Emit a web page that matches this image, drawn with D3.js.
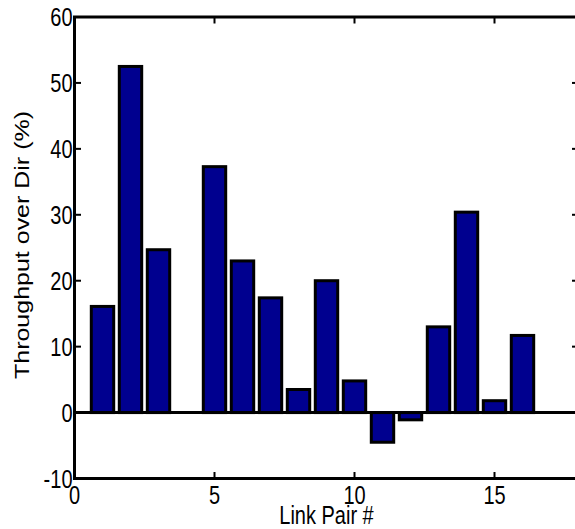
<!DOCTYPE html>
<html>
<head>
<meta charset="utf-8">
<script src="https://cdn.jsdelivr.net/npm/d3@7"></script>
<style>
  body { margin: 0; background: #fff; }
  svg text { font-family: "Liberation Sans", Arial, Helvetica, sans-serif; fill: #000; }
</style>
</head>
<body>
<div id="chart"></div>
<script>
"use strict";

/* values */
const linkPairs = d3.range(1, 17);
const throughput = [16.1, 52.5, 24.7, 0, 37.3, 23.0, 17.4, 3.5, 20.0, 4.8, -4.5, -1.1, 13.0, 30.4, 1.8, 11.7];
const xTicks = [0, 5, 10, 15];
const yTicks = [-10, 0, 10, 20, 30, 40, 50, 60];

const width = 575, height = 529;
// the axes box runs past the right edge of the picture (x goes to 18)
const boxLeft = 74.5, boxRight = 578.5, boxTop = 17, boxBottom = 478.5;
const stretch = 1.25; // the source image is a bit taller than wide

const svg = d3.select("#chart")
  .append("svg")
  .attr("width", width)
  .attr("height", height);

const x = d3.scaleLinear().domain([0, 18]).range([boxLeft, boxRight]);
const y = d3.scaleLinear().domain([-10, 60]).range([boxBottom, boxTop]);

/* bars */
const barW = x(0.8) - x(0);
svg.append("g")
  .selectAll("rect")
  .data(linkPairs.map((p, i) => ({ pair: p, value: throughput[i] })))
  .enter()
  .append("rect")
  .attr("x", d => x(d.pair) - barW / 2)
  .attr("y", d => Math.min(y(d.value), y(0)))
  .attr("width", barW)
  .attr("height", d => Math.abs(y(d.value) - y(0)))
  .attr("fill", "#00008f")
  .attr("stroke", "#000")
  .attr("stroke-width", 3);

/* zero baseline */
svg.append("line")
  .attr("x1", x(0)).attr("x2", x(18))
  .attr("y1", y(0)).attr("y2", y(0))
  .attr("stroke", "#000")
  .attr("stroke-width", 3);

/* axes, ticks pointing inward */
const tickLen = 6.5;
const fmt = d => String(d);

const yAxis = svg.append("g")
  .attr("transform", `translate(${boxLeft},0)`)
  .call(d3.axisLeft(y).tickValues(yTicks).tickFormat(fmt)
    .tickSize(-tickLen).tickPadding(2).offset(0));

svg.append("g")
  .attr("transform", `translate(${boxRight},0)`)
  .call(d3.axisRight(y).tickValues(yTicks).tickFormat("")
    .tickSize(-tickLen).offset(0));

const xAxis = svg.append("g")
  .attr("transform", `translate(0,${boxBottom})`)
  .call(d3.axisBottom(x).tickValues(xTicks).tickFormat(fmt)
    .tickSize(-tickLen).offset(0));

svg.append("g")
  .attr("transform", `translate(0,${boxTop})`)
  .call(d3.axisTop(x).tickValues(xTicks).tickFormat("")
    .tickSize(-tickLen).offset(0));

svg.selectAll(".domain").remove();
svg.selectAll(".tick line").attr("stroke", "#000").attr("stroke-width", 2);
svg.selectAll(".tick text")
  .attr("font-size", 20)
  .attr("fill", "#000");
svg.selectAll(".tick").attr("font-family", null);
svg.selectAll("g").attr("font-family", null).attr("font-size", null);

yAxis.selectAll(".tick text")
  .attr("dy", "0.36em")
  .attr("transform", `scale(1,${stretch})`);

xAxis.selectAll(".tick text")
  .attr("y", 20.6)
  .attr("dy", 0)
  .attr("transform", `scale(1,${stretch})`);

/* axes box */
svg.append("rect")
  .attr("x", boxLeft).attr("y", boxTop)
  .attr("width", boxRight - boxLeft).attr("height", boxBottom - boxTop)
  .attr("fill", "none")
  .attr("stroke", "#000")
  .attr("stroke-width", 3);

/* labels */
svg.append("text")
  .attr("transform", `translate(${(boxLeft + boxRight) / 2},524) scale(1,${stretch})`)
  .attr("text-anchor", "middle")
  .attr("font-size", 20)
  .text("Link Pair #");

svg.append("text")
  .attr("transform", `translate(29,245) rotate(-90) scale(${stretch},1)`)
  .attr("text-anchor", "middle")
  .attr("font-size", 20)
  .text("Throughput over Dir (%)");
</script>
</body>
</html>
